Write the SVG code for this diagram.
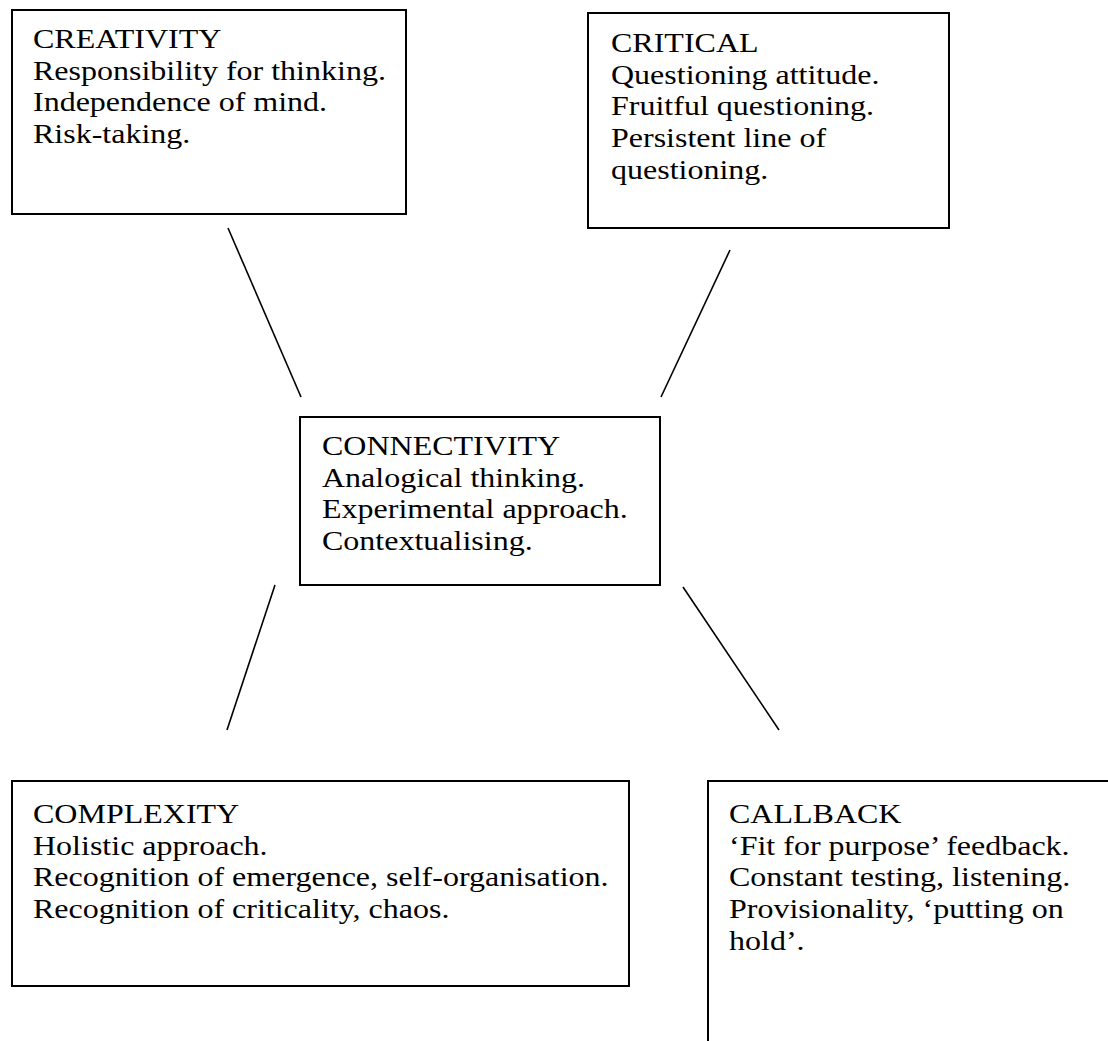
<svg xmlns="http://www.w3.org/2000/svg" width="1108" height="1041" viewBox="0 0 1108 1041">
  <style>
    .box { fill: #ffffff; stroke: #000000; stroke-width: 2; }
    .link { stroke: #000000; stroke-width: 1.6; fill: none; }
    .txt { font-family: "Liberation Serif", "Times New Roman", serif; font-size: 27.6px; fill: #000000; }
  </style>
  <rect x="0" y="0" width="1108" height="1041" fill="#ffffff"/>

  <!-- connectors from the central node to the four outer nodes -->
  <g id="connectors">
    <line class="link" x1="228" y1="228" x2="301" y2="397"/>
    <line class="link" x1="730" y1="250" x2="661" y2="397"/>
    <line class="link" x1="275" y1="585" x2="227" y2="730"/>
    <line class="link" x1="683" y1="587" x2="779" y2="730"/>
  </g>

  <!-- text blocks are set with a slightly wide face (horizontal scale 1.16) -->
  <g id="creativity">
    <rect class="box" x="12" y="10" width="394" height="204"/>
    <g transform="translate(33 0) scale(1.16 1)">
      <text class="txt" x="0" y="48">CREATIVITY</text>
      <text class="txt" x="0" y="79.7">Responsibility for thinking.</text>
      <text class="txt" x="0" y="111.4">Independence of mind.</text>
      <text class="txt" x="0" y="143.1">Risk-taking.</text>
    </g>
  </g>

  <g id="critical">
    <rect class="box" x="588" y="13" width="361" height="215"/>
    <g transform="translate(611 0) scale(1.16 1)">
      <text class="txt" x="0" y="52">CRITICAL</text>
      <text class="txt" x="0" y="83.7">Questioning attitude.</text>
      <text class="txt" x="0" y="115.4">Fruitful questioning.</text>
      <text class="txt" x="0" y="147.1">Persistent line of</text>
      <text class="txt" x="0" y="178.8">questioning.</text>
    </g>
  </g>

  <g id="connectivity">
    <rect class="box" x="300" y="417" width="360" height="168"/>
    <g transform="translate(322 0) scale(1.16 1)">
      <text class="txt" x="0" y="455">CONNECTIVITY</text>
      <text class="txt" x="0" y="486.7">Analogical thinking.</text>
      <text class="txt" x="0" y="518.4">Experimental approach.</text>
      <text class="txt" x="0" y="550.1">Contextualising.</text>
    </g>
  </g>

  <g id="complexity">
    <rect class="box" x="12" y="781" width="617" height="205"/>
    <g transform="translate(33 0) scale(1.16 1)">
      <text class="txt" x="0" y="823">COMPLEXITY</text>
      <text class="txt" x="0" y="854.7">Holistic approach.</text>
      <text class="txt" x="0" y="886.4">Recognition of emergence, self-organisation.</text>
      <text class="txt" x="0" y="918.1">Recognition of criticality, chaos.</text>
    </g>
  </g>

  <g id="callback">
    <rect class="box" x="708" y="781" width="420" height="300"/>
    <g transform="translate(729 0) scale(1.16 1)">
      <text class="txt" x="0" y="823">CALLBACK</text>
      <text class="txt" x="0" y="854.7">‘Fit for purpose’ feedback.</text>
      <text class="txt" x="0" y="886.4">Constant testing, listening.</text>
      <text class="txt" x="0" y="918.1">Provisionality, ‘putting on</text>
      <text class="txt" x="0" y="949.8">hold’.</text>
    </g>
  </g>
</svg>
